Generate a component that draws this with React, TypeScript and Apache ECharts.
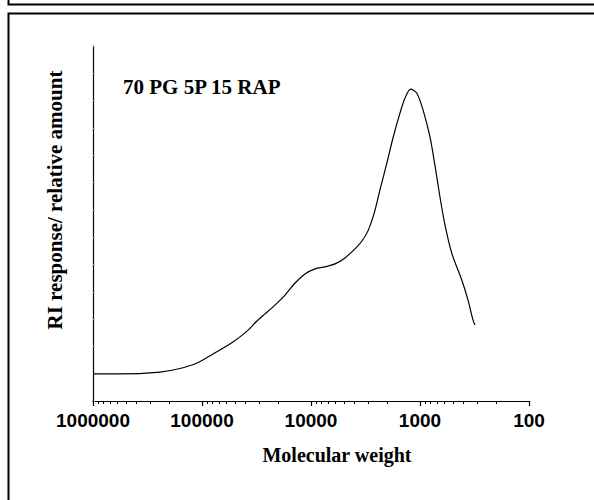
import React, { useEffect, useRef } from "react";
import * as echarts from "echarts";

// Molecular weight (x) and RI response (y)
const molecularWeight = [
  1000000, 565000, 242700, 159200, 111100, 79300, 52000, 38650, 31300, 26400,
  22800, 17300, 14000, 11350, 9190, 7440, 6025, 4880, 3950, 3405, 3000, 2642,
  2330, 2023, 1770, 1525, 1374, 1217, 1072, 938, 810, 728, 656, 590, 512, 414,
  363, 327, 313,
];
const riResponse = [
  0.99, 0.99, 1.06, 1.19, 1.39, 1.72, 2.16, 2.56, 2.93, 3.19, 3.41, 3.88, 4.32,
  4.65, 4.84, 4.91, 5.02, 5.24, 5.57, 5.86, 6.23, 6.85, 7.73, 8.68, 9.63, 10.55,
  11.09, 11.42, 11.28, 10.66, 9.67, 8.61, 7.47, 6.45, 5.42, 4.43, 3.7, 2.97, 2.78,
];
const sampleLabel = "70 PG 5P 15 RAP";
const xTitle = "Molecular weight";
const yTitle = "RI response/ relative amount";

export default function App() {
  const ref = useRef<HTMLDivElement>(null);
  useEffect(() => {
    if (!ref.current) return;
    const chart = echarts.init(ref.current, null, { renderer: "svg" });
    const data = molecularWeight.map((m, i) => [m, riResponse[i]]);
    chart.setOption({
      animation: false,
      backgroundColor: "#ffffff",
      grid: { left: 93, right: 65, top: 46, bottom: 99 },
      xAxis: {
        type: "log",
        logBase: 10,
        min: 100,
        max: 1000000,
        inverse: true,
        axisLine: { lineStyle: { color: "#000", width: 1.2 } },
        axisTick: { length: 5, lineStyle: { color: "#000", width: 1.2 } },
        minorTick: { show: true, splitNumber: 9, length: 3, lineStyle: { color: "#000", width: 1 } },
        splitLine: { show: false },
        minorSplitLine: { show: false },
        axisLabel: {
          color: "#000",
          fontFamily: "Liberation Sans, Arial, sans-serif",
          fontWeight: "bold",
          fontSize: 19,
          margin: 10,
          formatter: (v: number) => String(Math.round(v)),
        },
      },
      yAxis: {
        type: "value",
        min: 0,
        max: 13,
        interval: 1,
        axisLine: { show: true, lineStyle: { color: "#000", width: 1.2 } },
        axisTick: { show: true, inside: true, length: 2, lineStyle: { color: "#aaa" } },
        axisLabel: { show: false },
        splitLine: { show: false },
      },
      series: [
        {
          type: "line",
          data,
          smooth: 0.3,
          showSymbol: false,
          symbol: "none",
          lineStyle: { color: "#000", width: 1.2 },
        },
      ],
      graphic: [
        {
          type: "rect",
          shape: { x: 8.5, y: -30, width: 700, height: 34.5 },
          style: { fill: "none", stroke: "#000", lineWidth: 2 },
        },
        {
          type: "rect",
          shape: { x: 8.5, y: 13.5, width: 700, height: 600 },
          style: { fill: "none", stroke: "#000", lineWidth: 2 },
        },
        {
          type: "text",
          x: 123,
          y: 87,
          style: {
            text: sampleLabel,
            fill: "#000",
            font: "bold 21px 'Liberation Serif', 'Times New Roman', serif",
            textVerticalAlign: "middle",
          },
        },
        {
          type: "text",
          x: 337,
          y: 455,
          style: {
            text: xTitle,
            fill: "#000",
            font: "bold 20px 'Liberation Serif', 'Times New Roman', serif",
            textAlign: "center",
            textVerticalAlign: "middle",
          },
        },
        {
          type: "text",
          x: 55,
          y: 200,
          rotation: Math.PI / 2,
          style: {
            text: yTitle,
            fill: "#000",
            font: "bold 21px 'Liberation Serif', 'Times New Roman', serif",
            textAlign: "center",
            textVerticalAlign: "middle",
          },
        },
      ],
    });
    return () => chart.dispose();
  }, []);
  return (
    <div
      ref={ref}
      style={{ position: "fixed", left: 0, top: 0, width: 594, height: 500, background: "#fff" }}
    />
  );
}
